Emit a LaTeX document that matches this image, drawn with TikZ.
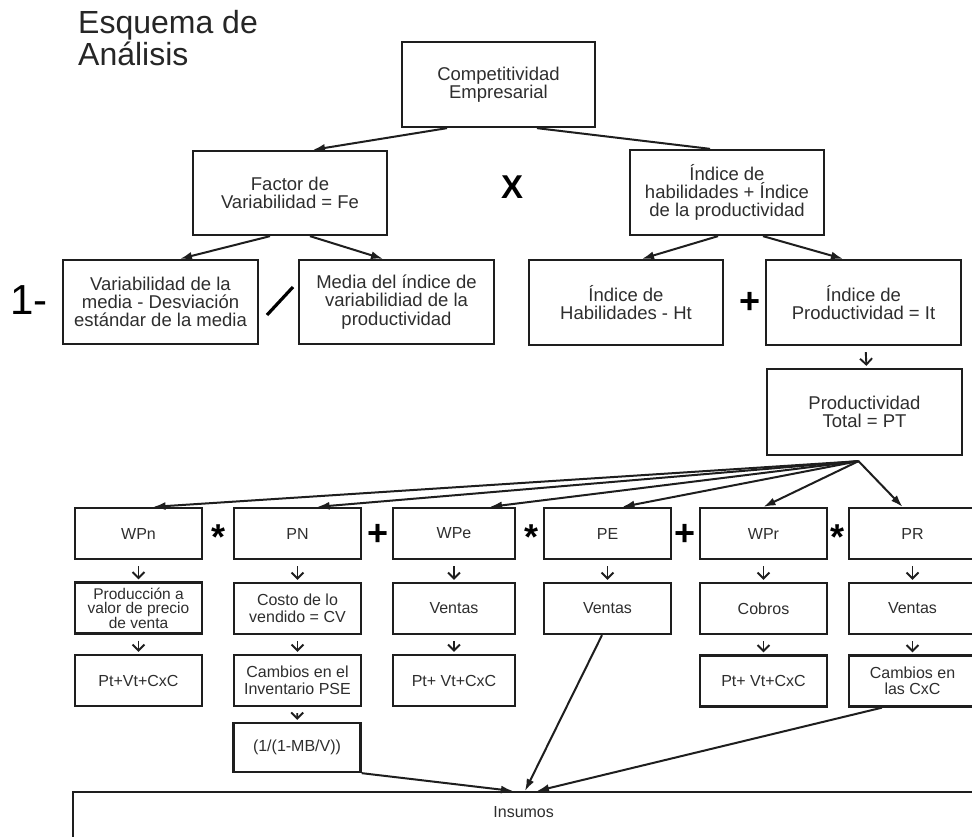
\documentclass[tikz,border=0pt]{standalone}
\usepackage{fontspec}
\setmainfont{Liberation Sans}
\usetikzlibrary{arrows.meta,calc}
\definecolor{linec}{HTML}{1E1E1E}
\definecolor{textc}{HTML}{2E2E2E}
\begin{document}
\begin{tikzpicture}[x=1pt,y=-1pt,
  bigbox/.style={draw=linec, line width=2.3pt, text=textc, align=center, inner sep=0pt,
    minimum width=194pt, minimum height=85pt, font=\fontsize{18.5}{18.3}\selectfont},
  smallbox/.style={draw=linec, line width=2.3pt, text=textc, align=center, inner sep=0pt,
    minimum width=127pt, minimum height=51pt, font=\fontsize{16}{16.5}\selectfont},
  fanarrow/.style={draw=linec, line width=2pt, -{Latex[length=12pt,width=8pt]}},
  plainline/.style={draw=linec, line width=2pt},
  downarrow/.style={draw=linec, line width=1.9pt, -{Straight Barb[length=6pt,width=12pt]}, shorten <=6pt, shorten >=2pt},
  opsym/.style={inner sep=0pt, text=black, font=\fontsize{36}{36}\bfseries\selectfont},
  bigsym/.style={inner sep=0pt, text=black, font=\fontsize{33}{33}\bfseries\selectfont}
]
\useasboundingbox (0,0) rectangle (972,837);
\fill[white] (0,0) rectangle (972,837);

% title
\node[anchor=north west, inner sep=0pt, align=left, text=black!85,
  font=\fontsize{32}{32}\selectfont] (title) at (78,10) {Esquema de\\Análisis};

% upper boxes
\node[bigbox, minimum width=193pt] (comp) at (498.5,84.5) {Competitividad\\Empresarial};
\node[bigbox, minimum height=84pt] (factor) at (290,193) {Factor de\\Variabilidad = Fe};
\node[bigbox] (indice) at (727,192.5) {Índice de\\habilidades + Índice\\de la productividad};
\node[bigbox, minimum width=195pt, minimum height=84pt] (var) at (160.5,302) {Variabilidad de la\\media - Desviación\\estándar de la media};
\node[bigbox, minimum width=195pt, minimum height=84pt] (media) at (396.5,302) {Media del índice de\\variabilidiad de la\\productividad};
\node[bigbox] (hab) at (626,302.5) {Índice de\\Habilidades - Ht};
\node[bigbox, minimum width=195pt] (it) at (863.5,302.5) {Índice de\\Productividad = It};
\node[bigbox, minimum width=195pt, minimum height=86pt] (pt) at (864.5,412) {Productividad\\Total = PT};

% operators (upper)
\node[bigsym] (xop) at (512,187) {X};
\node[inner sep=0pt, text=black, font=\fontsize{42}{42}\selectfont] (oneminus) at (29,300) {1-};
\draw[draw=black, line width=3.2pt] (267,315) -- (293,287);
\node[opsym] (plusA) at (750,303) {+};

% upper connectors
\draw[fanarrow] ([xshift=-51.5pt]comp.south) -- ([xshift=23pt]factor.north);
\draw[plainline] ([xshift=38.5pt]comp.south) -- ([xshift=-17pt]indice.north);
\draw[fanarrow] ([xshift=-20pt]factor.south) -- ([xshift=19.5pt]var.north);
\draw[fanarrow] ([xshift=20pt]factor.south) -- ([xshift=-13.5pt]media.north);
\draw[fanarrow] ([xshift=-9pt]indice.south) -- ([xshift=16pt]hab.north);
\draw[fanarrow] ([xshift=36pt]indice.south) -- ([xshift=-20.5pt]it.north);
\draw[downarrow] ([xshift=2pt]it.south) -- ([xshift=2pt]pt.north);

% lower rows
\node[smallbox] (wpn) at (138.5,533.5) {WPn};
\node[smallbox] (pn)  at (297.5,533.5) {PN};
\node[smallbox, minimum width=122pt] (wpe) at (454,533.5) {WPe};
\node[smallbox] (pe)  at (607.5,533.5) {PE};
\node[smallbox] (wpr) at (763.5,533.5) {WPr};
\node[smallbox] (pr)  at (912.5,533.5) {PR};

\node[smallbox, font=\fontsize{15.5}{14.5}\selectfont] (prod) at (138.5,608) {Producción a\\valor de precio\\de venta};
\node[smallbox] (costo) at (297.5,608.5) {Costo de lo\\vendido = CV};
\node[smallbox, minimum width=122pt] (ventasA) at (454,608.5) {Ventas};
\node[smallbox] (ventasB) at (607.5,608.5) {Ventas};
\node[smallbox] (cobros) at (763.5,608.5) {Cobros};
\node[smallbox] (ventasC) at (912.5,608.5) {Ventas};

\node[smallbox] (sumA) at (138.5,680.5) {Pt+Vt+CxC};
\node[smallbox] (camb) at (297.5,680.5) {Cambios en el\\Inventario PSE};
\node[smallbox, minimum width=122pt] (sumB) at (454,680.5) {Pt+ Vt+CxC};
\node[smallbox] (sumC) at (763.5,681) {Pt+ Vt+CxC};
\node[smallbox] (cambcxc) at (912.5,681) {Cambios en\\las CxC};

\node[smallbox, minimum height=49pt] (mbv) at (297,747.5) {(1/(1-MB/V))};

% Insumos
\node[draw=linec, line width=2.3pt, anchor=north west, inner sep=0pt,
  minimum width=901pt, minimum height=90pt,
  label={[text=textc, font=\fontsize{16}{16}\selectfont, yshift=-30pt]north:Insumos}] (ins) at (72,791) {};

% lower operators
\node[opsym] (starA) at (219,537) {*};
\node[opsym] (plusB) at (378,534.5) {+};
\node[opsym] (starB) at (531,537) {*};
\node[opsym] (plusC) at (685,534.5) {+};
\node[opsym] (starC) at (837,537) {*};

% fan from PT
\coordinate (fo) at ([xshift=-6pt,yshift=-5pt]pt.south);
\draw[fanarrow] (fo) -- ([xshift=15pt]wpn.north);
\draw[fanarrow] (fo) -- ([xshift=20pt]pn.north);
\draw[fanarrow] (fo) -- ([xshift=36pt]wpe.north);
\draw[fanarrow] (fo) -- ([xshift=15pt]pe.north);
\draw[fanarrow] (fo) -- (wpr.north);
\draw[fanarrow] (fo) -- ([xshift=-10pt]pr.north);

% down arrows
\draw[downarrow] (wpn) -- (prod);
\draw[downarrow] (prod) -- (sumA);
\draw[downarrow] (pn) -- (costo);
\draw[downarrow] (costo) -- (camb);
\draw[downarrow] (camb) -- (mbv);
\draw[downarrow] (wpe) -- (ventasA);
\draw[downarrow] (ventasA) -- (sumB);
\draw[downarrow] (pe) -- (ventasB);
\draw[downarrow] (wpr) -- (cobros);
\draw[downarrow] (cobros) -- (sumC);
\draw[downarrow] (pr) -- (ventasC);
\draw[downarrow] (ventasC) -- (cambcxc);

% into Insumos
\draw[fanarrow] (mbv.south east) -- ([xshift=441pt]ins.north west);
\draw[fanarrow] ([xshift=-5.5pt]ventasB.south) -- ([xshift=453pt]ins.north west);
\draw[fanarrow] ([xshift=-30.5pt]cambcxc.south) -- ([xshift=465pt]ins.north west);
\end{tikzpicture}
\end{document}
